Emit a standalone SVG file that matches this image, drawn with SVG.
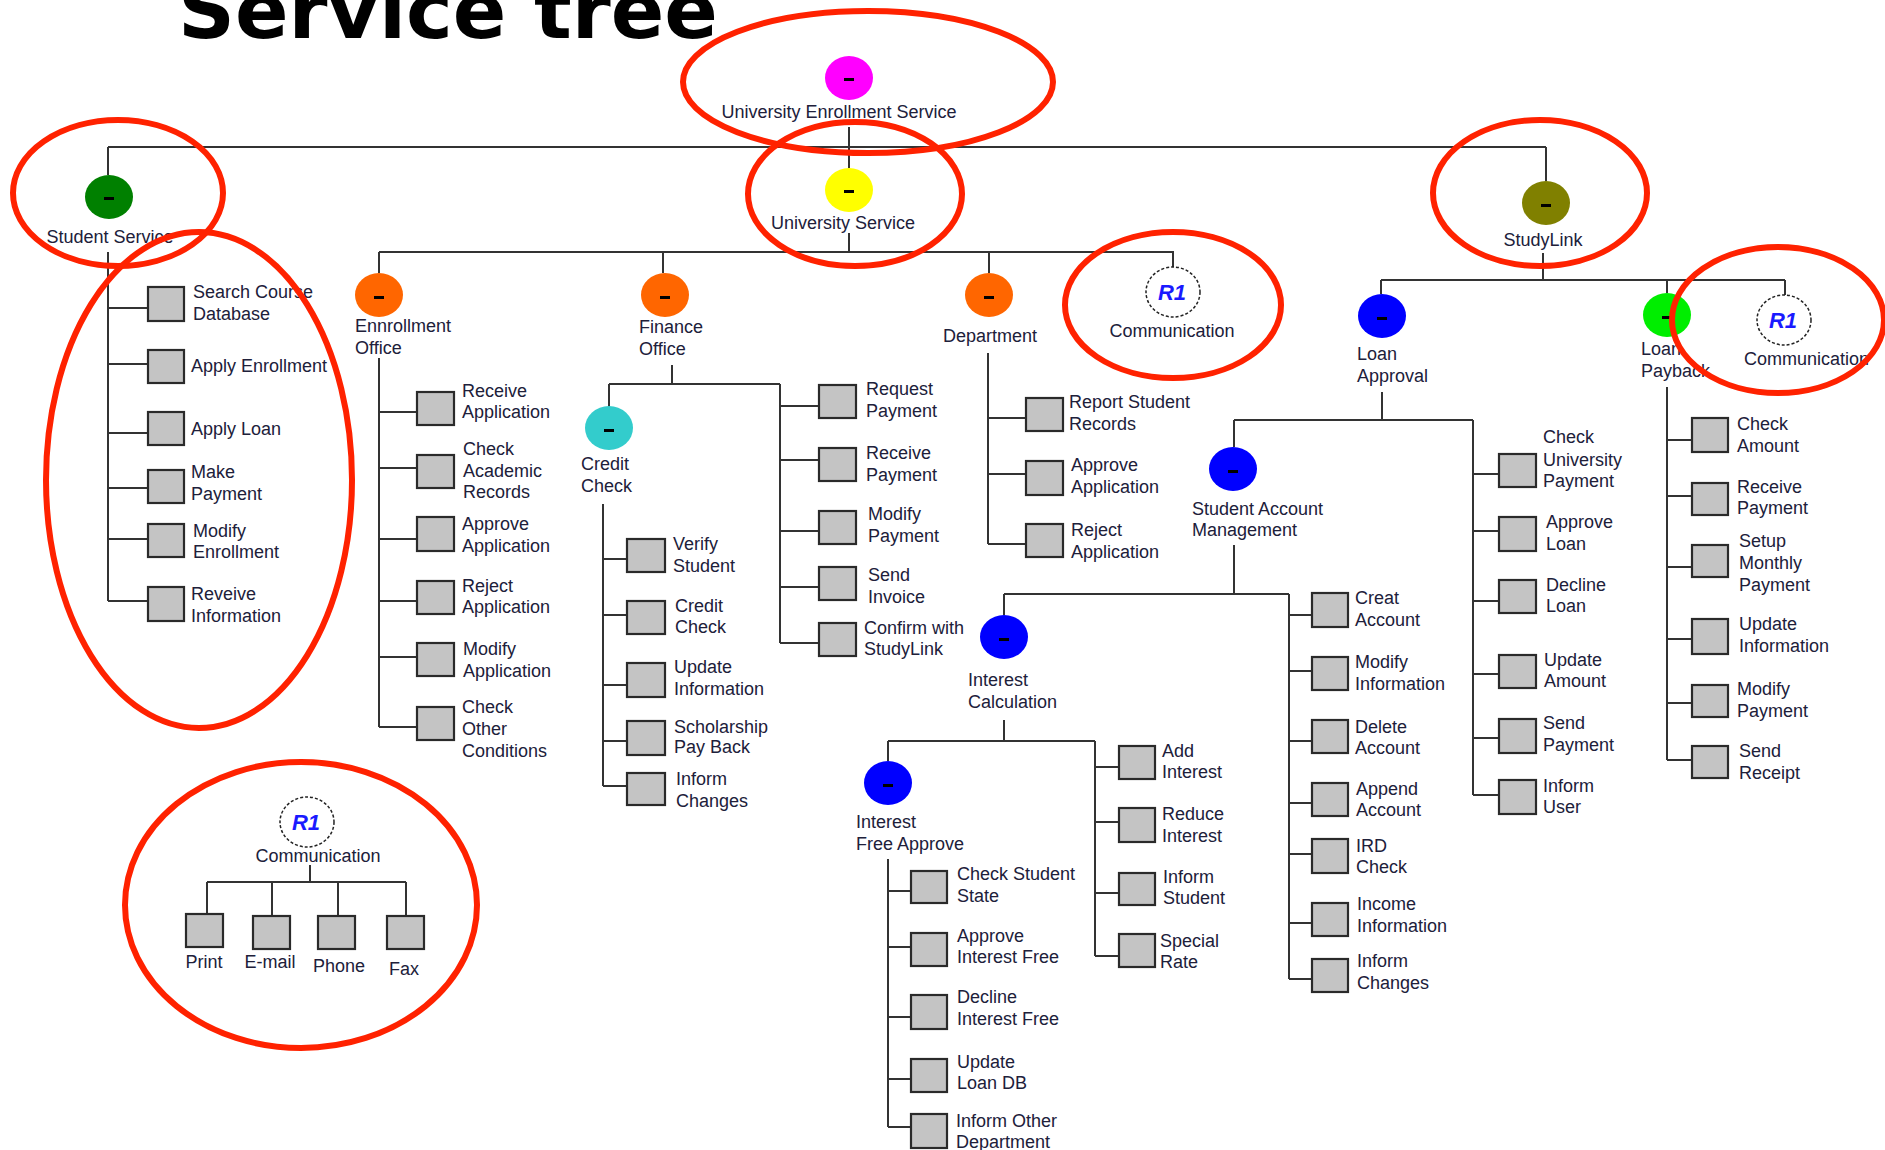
<svg xmlns="http://www.w3.org/2000/svg" width="1885" height="1150" viewBox="0 0 1885 1150">
<style>
.ln{stroke:#333;stroke-width:2;fill:none}
.box{fill:#c4c4c4;stroke:#2a2a2a;stroke-width:2.2}
.t{font-family:"Liberation Sans",Arial,sans-serif;font-size:18px;fill:#20203a}
.m{text-anchor:middle}
.dash{fill:#000}
.r1c{fill:#fff;stroke:#222;stroke-width:1.5;stroke-dasharray:3 2}
.r1t{font-family:"Liberation Sans",Arial,sans-serif;font-size:22px;font-weight:bold;font-style:italic;fill:#1a1aff;text-anchor:middle}
.red{fill:none;stroke:#ff2200;stroke-width:6}
.title{font-family:"DejaVu Sans",Verdana,sans-serif;font-weight:bold;font-size:79px;fill:#000}
</style>
<rect width="1885" height="1150" fill="#fff"/>
<text class="title" x="178" y="38">Service tree</text>

<g id="connectors">
<path class="ln" d="M108 147 H1546 M849 127 V168 M108 147 V175 M1546 147 V181"/>
<path class="ln" d="M849 233 V252 M379 252 H1173 V267 M379 252 V273 M663 252 V273 M989 252 V273"/>
<path class="ln" d="M108 252 V601 M108 308 H148 M108 364 H148 M108 433 H148 M108 488 H148 M108 539 H148 M108 601 H148"/>
<path class="ln" d="M379 358 V727 M379 412 H417 M379 468 H417 M379 539 H417 M379 601 H417 M379 657 H417 M379 727 H417"/>
<path class="ln" d="M672 365 V384 M609 384 H780 M609 384 V407 M780 384 V643 M780 406 H819 M780 460 H819 M780 531 H819 M780 587 H819 M780 643 H819"/>
<path class="ln" d="M603 504 V786 M603 559 H627 M603 615 H627 M603 685 H627 M603 741 H627 M603 786 H627"/>
<path class="ln" d="M988 353 V544 M988 418 H1026 M988 474 H1026 M988 544 H1026"/>
<path class="ln" d="M1543 253 V280 M1381 280 H1785 M1381 280 V294 M1667 280 V293 M1785 280 V295"/>
<path class="ln" d="M1382 392 V420 M1234 420 H1473 M1234 420 V447 M1473 420 V795 M1473 474 H1499 M1473 531 H1499 M1473 601 H1499 M1473 674 H1499 M1473 738 H1499 M1473 795 H1499"/>
<path class="ln" d="M1667 387 V760 M1667 440 H1692 M1667 496 H1692 M1667 567 H1692 M1667 639 H1692 M1667 703 H1692 M1667 760 H1692"/>
<path class="ln" d="M1234 545 V594 M1004 594 H1289 M1004 594 V615 M1289 594 V979 M1289 615 H1312 M1289 671 H1312 M1289 741 H1312 M1289 803 H1312 M1289 854 H1312 M1289 923 H1312 M1289 979 H1312"/>
<path class="ln" d="M1004 720 V741 M888 741 H1095 M888 741 V761 M1095 741 V956 M1095 767 H1119 M1095 822 H1119 M1095 893 H1119 M1095 956 H1119"/>
<path class="ln" d="M888 859 V1127 M888 891 H911 M888 947 H911 M888 1017 H911 M888 1079 H911 M888 1127 H911"/>
<path class="ln" d="M310 865 V882 M207 882 H406 M207 882 V914 M272 882 V916 M338 882 V916 M406 882 V916"/>
</g>

<g id="root">
<ellipse cx="849" cy="78" rx="24" ry="22" fill="#ff00ff"/><rect class="dash" x="844" y="78" width="10" height="3"/>
<text class="t m" x="839" y="118">University Enrollment Service</text>
</g>
<g id="student-service">
<ellipse cx="109" cy="197" rx="24" ry="22" fill="#008000"/><rect class="dash" x="104" y="197" width="10" height="3"/>
<text class="t m" x="110" y="243">Student Service</text>
</g>
<g id="university-service">
<ellipse cx="849" cy="190" rx="24" ry="22" fill="#ffff00"/><rect class="dash" x="844" y="190" width="10" height="3"/>
<text class="t m" x="843" y="229">University Service</text>
</g>
<g id="studylink">
<ellipse cx="1546" cy="203" rx="24" ry="22" fill="#808000"/><rect class="dash" x="1541" y="204" width="10" height="3"/>
<text class="t m" x="1543" y="246">StudyLink</text>
</g>

<g id="ss-search"><rect class="box" x="148" y="287" width="36" height="34"/><text class="t"><tspan x="193" y="298">Search Course</tspan><tspan x="193" y="320">Database</tspan></text></g>
<g id="ss-apply-enrollment"><rect class="box" x="148" y="350" width="36" height="33"/><text class="t" x="191" y="372">Apply Enrollment</text></g>
<g id="ss-apply-loan"><rect class="box" x="148" y="412" width="36" height="33"/><text class="t" x="191" y="435">Apply Loan</text></g>
<g id="ss-make-payment"><rect class="box" x="148" y="470" width="36" height="33"/><text class="t"><tspan x="191" y="478">Make</tspan><tspan x="191" y="500">Payment</tspan></text></g>
<g id="ss-modify-enrollment"><rect class="box" x="148" y="524" width="36" height="33"/><text class="t"><tspan x="193" y="537">Modify</tspan><tspan x="193" y="558">Enrollment</tspan></text></g>
<g id="ss-reveive"><rect class="box" x="148" y="587" width="36" height="34"/><text class="t"><tspan x="191" y="600">Reveive</tspan><tspan x="191" y="622">Information</tspan></text></g>

<g id="enrollment-office">
<ellipse cx="379" cy="295" rx="24" ry="22" fill="#ff6600"/><rect class="dash" x="374" y="296" width="10" height="3"/>
<text class="t"><tspan x="355" y="332">Ennrollment</tspan><tspan x="355" y="354">Office</tspan></text>
</g>
<g id="eo-receive"><rect class="box" x="417" y="392" width="37" height="33"/><text class="t"><tspan x="462" y="397">Receive</tspan><tspan x="462" y="418">Application</tspan></text></g>
<g id="eo-check-academic"><rect class="box" x="417" y="455" width="37" height="33"/><text class="t"><tspan x="463" y="455">Check</tspan><tspan x="463" y="477">Academic</tspan><tspan x="463" y="498">Records</tspan></text></g>
<g id="eo-approve"><rect class="box" x="417" y="517" width="37" height="34"/><text class="t"><tspan x="462" y="530">Approve</tspan><tspan x="462" y="552">Application</tspan></text></g>
<g id="eo-reject"><rect class="box" x="417" y="581" width="37" height="33"/><text class="t"><tspan x="462" y="592">Reject</tspan><tspan x="462" y="613">Application</tspan></text></g>
<g id="eo-modify"><rect class="box" x="417" y="643" width="37" height="33"/><text class="t"><tspan x="463" y="655">Modify</tspan><tspan x="463" y="677">Application</tspan></text></g>
<g id="eo-check-other"><rect class="box" x="417" y="707" width="37" height="33"/><text class="t"><tspan x="462" y="713">Check</tspan><tspan x="462" y="735">Other</tspan><tspan x="462" y="757">Conditions</tspan></text></g>

<g id="finance-office">
<ellipse cx="665" cy="295" rx="24" ry="22" fill="#ff6600"/><rect class="dash" x="660" y="296" width="10" height="3"/>
<text class="t"><tspan x="639" y="333">Finance</tspan><tspan x="639" y="355">Office</tspan></text>
</g>
<g id="credit-check">
<ellipse cx="609" cy="428" rx="24" ry="22" fill="#33cccc"/><rect class="dash" x="604" y="429" width="10" height="3"/>
<text class="t"><tspan x="581" y="470">Credit</tspan><tspan x="581" y="492">Check</tspan></text>
</g>
<g id="cc-verify"><rect class="box" x="627" y="539" width="38" height="33"/><text class="t"><tspan x="673" y="550">Verify</tspan><tspan x="673" y="572">Student</tspan></text></g>
<g id="cc-credit"><rect class="box" x="627" y="601" width="38" height="33"/><text class="t"><tspan x="675" y="612">Credit</tspan><tspan x="675" y="633">Check</tspan></text></g>
<g id="cc-update"><rect class="box" x="627" y="663" width="38" height="34"/><text class="t"><tspan x="674" y="673">Update</tspan><tspan x="674" y="695">Information</tspan></text></g>
<g id="cc-scholarship"><rect class="box" x="627" y="721" width="38" height="34"/><text class="t"><tspan x="674" y="733">Scholarship</tspan><tspan x="674" y="753">Pay Back</tspan></text></g>
<g id="cc-inform"><rect class="box" x="627" y="773" width="38" height="32"/><text class="t"><tspan x="676" y="785">Inform</tspan><tspan x="676" y="807">Changes</tspan></text></g>
<g id="fo-request"><rect class="box" x="819" y="385" width="37" height="33"/><text class="t"><tspan x="866" y="395">Request</tspan><tspan x="866" y="417">Payment</tspan></text></g>
<g id="fo-receive"><rect class="box" x="819" y="448" width="37" height="33"/><text class="t"><tspan x="866" y="459">Receive</tspan><tspan x="866" y="481">Payment</tspan></text></g>
<g id="fo-modify"><rect class="box" x="819" y="511" width="37" height="33"/><text class="t"><tspan x="868" y="520">Modify</tspan><tspan x="868" y="542">Payment</tspan></text></g>
<g id="fo-send-invoice"><rect class="box" x="819" y="567" width="37" height="33"/><text class="t"><tspan x="868" y="581">Send</tspan><tspan x="868" y="603">Invoice</tspan></text></g>
<g id="fo-confirm"><rect class="box" x="819" y="623" width="37" height="33"/><text class="t"><tspan x="864" y="634">Confirm with</tspan><tspan x="864" y="655">StudyLink</tspan></text></g>

<g id="department">
<ellipse cx="989" cy="295" rx="24" ry="22" fill="#ff6600"/><rect class="dash" x="984" y="296" width="10" height="3"/>
<text class="t m" x="990" y="342">Department</text>
</g>
<g id="dp-report"><rect class="box" x="1026" y="398" width="37" height="33"/><text class="t"><tspan x="1069" y="408">Report Student</tspan><tspan x="1069" y="430">Records</tspan></text></g>
<g id="dp-approve"><rect class="box" x="1026" y="461" width="37" height="34"/><text class="t"><tspan x="1071" y="471">Approve</tspan><tspan x="1071" y="493">Application</tspan></text></g>
<g id="dp-reject"><rect class="box" x="1026" y="524" width="37" height="33"/><text class="t"><tspan x="1071" y="536">Reject</tspan><tspan x="1071" y="558">Application</tspan></text></g>

<g id="communication-1">
<ellipse class="r1c" cx="1173" cy="292" rx="27" ry="25"/><text class="r1t" x="1172" y="300">R1</text>
<text class="t m" x="1172" y="337">Communication</text>
</g>

<g id="loan-approval">
<ellipse cx="1382" cy="316" rx="24" ry="22" fill="#0000ff"/><rect class="dash" x="1377" y="317" width="10" height="3"/>
<text class="t"><tspan x="1357" y="360">Loan</tspan><tspan x="1357" y="382">Approval</tspan></text>
</g>
<g id="student-account-management">
<ellipse cx="1233" cy="469" rx="24" ry="22" fill="#0000ff"/><rect class="dash" x="1228" y="470" width="10" height="3"/>
<text class="t"><tspan x="1192" y="515">Student Account</tspan><tspan x="1192" y="536">Management</tspan></text>
</g>
<g id="sam-creat"><rect class="box" x="1312" y="593" width="36" height="34"/><text class="t"><tspan x="1355" y="604">Creat</tspan><tspan x="1355" y="626">Account</tspan></text></g>
<g id="sam-modify"><rect class="box" x="1312" y="657" width="36" height="33"/><text class="t"><tspan x="1355" y="668">Modify</tspan><tspan x="1355" y="690">Information</tspan></text></g>
<g id="sam-delete"><rect class="box" x="1312" y="720" width="36" height="33"/><text class="t"><tspan x="1355" y="733">Delete</tspan><tspan x="1355" y="754">Account</tspan></text></g>
<g id="sam-append"><rect class="box" x="1312" y="783" width="36" height="33"/><text class="t"><tspan x="1356" y="795">Append</tspan><tspan x="1356" y="816">Account</tspan></text></g>
<g id="sam-ird"><rect class="box" x="1312" y="839" width="36" height="34"/><text class="t"><tspan x="1356" y="852">IRD</tspan><tspan x="1356" y="873">Check</tspan></text></g>
<g id="sam-income"><rect class="box" x="1312" y="903" width="36" height="33"/><text class="t"><tspan x="1357" y="910">Income</tspan><tspan x="1357" y="932">Information</tspan></text></g>
<g id="sam-inform"><rect class="box" x="1312" y="959" width="36" height="33"/><text class="t"><tspan x="1357" y="967">Inform</tspan><tspan x="1357" y="989">Changes</tspan></text></g>

<g id="interest-calculation">
<ellipse cx="1004" cy="637" rx="24" ry="22" fill="#0000ff"/><rect class="dash" x="999" y="638" width="10" height="3"/>
<text class="t"><tspan x="968" y="686">Interest</tspan><tspan x="968" y="708">Calculation</tspan></text>
</g>
<g id="ic-add"><rect class="box" x="1119" y="746" width="36" height="33"/><text class="t"><tspan x="1162" y="757">Add</tspan><tspan x="1162" y="778">Interest</tspan></text></g>
<g id="ic-reduce"><rect class="box" x="1119" y="808" width="36" height="34"/><text class="t"><tspan x="1162" y="820">Reduce</tspan><tspan x="1162" y="842">Interest</tspan></text></g>
<g id="ic-inform"><rect class="box" x="1119" y="873" width="36" height="32"/><text class="t"><tspan x="1163" y="883">Inform</tspan><tspan x="1163" y="904">Student</tspan></text></g>
<g id="ic-special"><rect class="box" x="1119" y="934" width="36" height="33"/><text class="t"><tspan x="1160" y="947">Special</tspan><tspan x="1160" y="968">Rate</tspan></text></g>

<g id="interest-free-approve">
<ellipse cx="888" cy="783" rx="24" ry="22" fill="#0000ff"/><rect class="dash" x="883" y="784" width="10" height="3"/>
<text class="t"><tspan x="856" y="828">Interest</tspan><tspan x="856" y="850">Free Approve</tspan></text>
</g>
<g id="ifa-check"><rect class="box" x="911" y="871" width="36" height="32"/><text class="t"><tspan x="957" y="880">Check Student</tspan><tspan x="957" y="902">State</tspan></text></g>
<g id="ifa-approve"><rect class="box" x="911" y="933" width="36" height="33"/><text class="t"><tspan x="957" y="942">Approve</tspan><tspan x="957" y="963">Interest Free</tspan></text></g>
<g id="ifa-decline"><rect class="box" x="911" y="995" width="36" height="34"/><text class="t"><tspan x="957" y="1003">Decline</tspan><tspan x="957" y="1025">Interest Free</tspan></text></g>
<g id="ifa-update"><rect class="box" x="911" y="1059" width="36" height="33"/><text class="t"><tspan x="957" y="1068">Update</tspan><tspan x="957" y="1089">Loan DB</tspan></text></g>
<g id="ifa-inform"><rect class="box" x="911" y="1114" width="36" height="34"/><text class="t"><tspan x="956" y="1127">Inform Other</tspan><tspan x="956" y="1148">Department</tspan></text></g>

<g id="la-check"><rect class="box" x="1499" y="454" width="37" height="33"/><text class="t"><tspan x="1543" y="443">Check</tspan><tspan x="1543" y="466">University</tspan><tspan x="1543" y="487">Payment</tspan></text></g>
<g id="la-approve"><rect class="box" x="1499" y="517" width="37" height="34"/><text class="t"><tspan x="1546" y="528">Approve</tspan><tspan x="1546" y="550">Loan</tspan></text></g>
<g id="la-decline"><rect class="box" x="1499" y="580" width="37" height="33"/><text class="t"><tspan x="1546" y="591">Decline</tspan><tspan x="1546" y="612">Loan</tspan></text></g>
<g id="la-update"><rect class="box" x="1499" y="655" width="37" height="33"/><text class="t"><tspan x="1544" y="666">Update</tspan><tspan x="1544" y="687">Amount</tspan></text></g>
<g id="la-send"><rect class="box" x="1499" y="719" width="37" height="34"/><text class="t"><tspan x="1543" y="729">Send</tspan><tspan x="1543" y="751">Payment</tspan></text></g>
<g id="la-inform"><rect class="box" x="1499" y="780" width="37" height="34"/><text class="t"><tspan x="1543" y="792">Inform</tspan><tspan x="1543" y="813">User</tspan></text></g>

<g id="loan-payback">
<ellipse cx="1667" cy="315" rx="24" ry="22" fill="#00ee00"/><rect class="dash" x="1662" y="316" width="10" height="3"/>
<text class="t"><tspan x="1641" y="355">Loan</tspan><tspan x="1641" y="377">Payback</tspan></text>
</g>
<g id="lp-check"><rect class="box" x="1692" y="418" width="36" height="34"/><text class="t"><tspan x="1737" y="430">Check</tspan><tspan x="1737" y="452">Amount</tspan></text></g>
<g id="lp-receive"><rect class="box" x="1692" y="483" width="36" height="32"/><text class="t"><tspan x="1737" y="493">Receive</tspan><tspan x="1737" y="514">Payment</tspan></text></g>
<g id="lp-setup"><rect class="box" x="1692" y="545" width="36" height="32"/><text class="t"><tspan x="1739" y="547">Setup</tspan><tspan x="1739" y="569">Monthly</tspan><tspan x="1739" y="591">Payment</tspan></text></g>
<g id="lp-update"><rect class="box" x="1692" y="619" width="36" height="35"/><text class="t"><tspan x="1739" y="630">Update</tspan><tspan x="1739" y="652">Information</tspan></text></g>
<g id="lp-modify"><rect class="box" x="1692" y="685" width="36" height="32"/><text class="t"><tspan x="1737" y="695">Modify</tspan><tspan x="1737" y="717">Payment</tspan></text></g>
<g id="lp-send"><rect class="box" x="1692" y="746" width="36" height="32"/><text class="t"><tspan x="1739" y="757">Send</tspan><tspan x="1739" y="779">Receipt</tspan></text></g>

<g id="communication-2">
<ellipse class="r1c" cx="1784" cy="320" rx="27" ry="25"/><text class="r1t" x="1783" y="328">R1</text>
<text class="t" x="1744" y="365">Communication</text>
</g>

<g id="communication-detail">
<ellipse class="r1c" cx="307" cy="822" rx="27" ry="25"/><text class="r1t" x="306" y="830">R1</text>
<text class="t m" x="318" y="862">Communication</text>
</g>
<g id="cm-print"><rect class="box" x="186" y="914" width="37" height="33"/><text class="t m" x="204" y="968">Print</text></g>
<g id="cm-email"><rect class="box" x="253" y="916" width="37" height="33"/><text class="t m" x="270" y="968">E-mail</text></g>
<g id="cm-phone"><rect class="box" x="318" y="916" width="37" height="33"/><text class="t m" x="339" y="972">Phone</text></g>
<g id="cm-fax"><rect class="box" x="387" y="916" width="37" height="33"/><text class="t m" x="404" y="975">Fax</text></g>

<g id="annotations">
<ellipse class="red" cx="868" cy="82" rx="185" ry="71"/>
<ellipse class="red" cx="118" cy="193" rx="105" ry="73"/>
<ellipse class="red" cx="855" cy="194" rx="107" ry="72"/>
<ellipse class="red" cx="1540" cy="193" rx="107" ry="73"/>
<ellipse class="red" cx="1173" cy="305" rx="108" ry="73"/>
<ellipse class="red" cx="1778" cy="320" rx="106" ry="73"/>
<ellipse class="red" cx="199" cy="480" rx="153" ry="248"/>
<ellipse class="red" cx="301" cy="905" rx="176" ry="143"/>
</g>
</svg>
